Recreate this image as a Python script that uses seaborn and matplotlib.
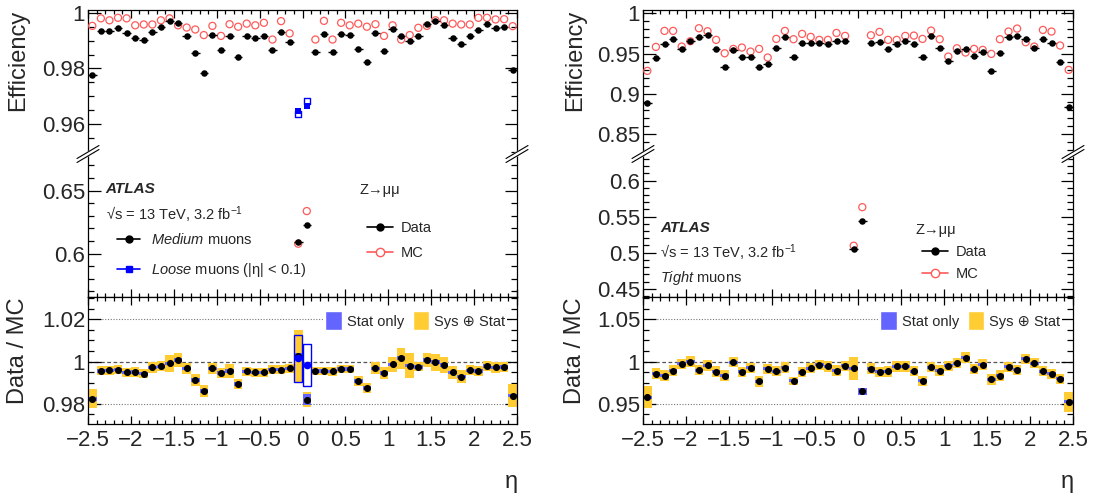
import numpy as np
import matplotlib
matplotlib.use("Agg")
import matplotlib.pyplot as plt
import seaborn as sns
from matplotlib.lines import Line2D
from matplotlib.patches import Patch
from matplotlib.ticker import MultipleLocator

# eta bin centres (50 bins of 0.1 between -2.5 and 2.5)
eta = np.round(np.linspace(-2.45, 2.45, 50), 2)
loose_eta = [-0.05, 0.05]

# ---- left: Medium muons ----
medium_data = [0.9778, 0.9935, 0.9935, 0.9945, 0.9929, 0.9908, 0.9904, 0.9930, 0.9950, 0.9971,
               0.9964, 0.9917, 0.9855, 0.9783, 0.9920, 0.9865, 0.9918, 0.9841, 0.9916, 0.9908,
               0.9917, 0.9866, 0.9931, 0.9894, 0.6094, 0.6224, 0.9859, 0.9925, 0.9859, 0.9925,
               0.9922, 0.9871, 0.9824, 0.9929, 0.9863, 0.9942, 0.9917, 0.9900, 0.9917, 0.9961,
               0.9970, 0.9957, 0.9911, 0.9887, 0.9918, 0.9937, 0.9959, 0.9947, 0.9950, 0.9793]
medium_mc = [0.9953, 0.9980, 0.9973, 0.9982, 0.9980, 0.9955, 0.9958, 0.9958, 0.9973, 0.9980,
             0.9955, 0.9947, 0.9940, 0.9920, 0.9953, 0.9917, 0.9959, 0.9950, 0.9961, 0.9955,
             0.9964, 0.9904, 0.9970, 0.9926, 0.6078, 0.6337, 0.9904, 0.9971, 0.9904, 0.9964,
             0.9955, 0.9961, 0.9950, 0.9959, 0.9917, 0.9955, 0.9904, 0.9920, 0.9946, 0.9953,
             0.9973, 0.9973, 0.9961, 0.9958, 0.9958, 0.9982, 0.9982, 0.9976, 0.9977, 0.9952]
medium_ratio = [0.9823, 0.9956, 0.9959, 0.9962, 0.9949, 0.9951, 0.9943, 0.9972, 0.9978, 0.9992,
                1.0008, 0.9968, 0.9913, 0.9861, 0.9968, 0.9946, 0.9956, 0.9893, 0.9953, 0.9949,
                0.9949, 0.9962, 0.9962, 0.9968, 1.0025, 0.9820, 0.9956, 0.9956, 0.9953, 0.9965,
                0.9965, 0.9908, 0.9874, 0.9968, 0.9945, 0.9987, 1.0016, 0.9981, 0.9975, 1.0008,
                0.9997, 0.9983, 0.9949, 0.9929, 0.9959, 0.9956, 0.9979, 0.9972, 0.9975, 0.9839]
medium_sys = [0.0045, 0.0022, 0.0022, 0.0022, 0.0022, 0.0022, 0.0022, 0.0025, 0.0025, 0.0040,
              0.0034, 0.0025, 0.0030, 0.0030, 0.0025, 0.0025, 0.0032, 0.0022, 0.0020, 0.0020,
              0.0020, 0.0020, 0.0020, 0.0020, 0.0126, 0.0035, 0.0020, 0.0020, 0.0020, 0.0020,
              0.0020, 0.0022, 0.0022, 0.0028, 0.0030, 0.0035, 0.0049, 0.0060, 0.0022, 0.0034,
              0.0040, 0.0037, 0.0030, 0.0030, 0.0025, 0.0025, 0.0025, 0.0025, 0.0025, 0.0053]
medium_stat = [0.0008] * 24 + [0.0015, 0.0028] + [0.0008] * 24

loose_data = [0.9649, 0.9665]
loose_mc = [0.9636, 0.9682]
loose_ratio = [1.0015, 0.9984]
loose_err = [0.0112, 0.0098]

# ---- right: Tight muons ----
tight_data = [0.8885, 0.9447, 0.9616, 0.9686, 0.9558, 0.9653, 0.9711, 0.9727, 0.9554, 0.9339,
              0.9546, 0.9463, 0.9463, 0.9335, 0.9368, 0.9570, 0.9711, 0.9455, 0.9628, 0.9628,
              0.9628, 0.9620, 0.9657, 0.9661, 0.5051, 0.5440, 0.9637, 0.9641, 0.9562, 0.9620,
              0.9653, 0.9616, 0.9455, 0.9723, 0.9575, 0.9409, 0.9537, 0.9554, 0.9475, 0.9517,
              0.9290, 0.9513, 0.9711, 0.9719, 0.9678, 0.9570, 0.9678, 0.9628, 0.9397, 0.8844]
tight_mc = [0.9286, 0.9583, 0.9781, 0.9781, 0.9587, 0.9653, 0.9814, 0.9777, 0.9670, 0.9504,
            0.9558, 0.9575, 0.9525, 0.9558, 0.9451, 0.9682, 0.9781, 0.9678, 0.9744, 0.9707,
            0.9670, 0.9670, 0.9756, 0.9719, 0.5097, 0.5632, 0.9727, 0.9769, 0.9670, 0.9670,
            0.9719, 0.9723, 0.9682, 0.9785, 0.9678, 0.9463, 0.9566, 0.9513, 0.9558, 0.9546,
            0.9496, 0.9678, 0.9773, 0.9810, 0.9641, 0.9587, 0.9793, 0.9773, 0.9600, 0.9298]
tight_ratio = [0.9577, 0.9858, 0.9834, 0.9893, 0.9972, 1.0000, 0.9897, 0.9953, 0.9878, 0.9834,
               0.9992, 0.9878, 0.9925, 0.9767, 0.9913, 0.9885, 0.9929, 0.9771, 0.9874, 0.9921,
               0.9960, 0.9941, 0.9893, 0.9949, 0.9921, 0.9645, 0.9917, 0.9878, 0.9882, 0.9941,
               0.9941, 0.9885, 0.9771, 0.9933, 0.9893, 0.9949, 0.9980, 1.0047, 0.9909, 0.9964,
               0.9787, 0.9834, 0.9937, 0.9901, 1.0032, 0.9980, 0.9885, 0.9854, 0.9795, 0.9522]
tight_sys = [0.0130, 0.0063, 0.0063, 0.0063, 0.0060, 0.0060, 0.0060, 0.0060, 0.0063, 0.0063,
             0.0060, 0.0060, 0.0060, 0.0063, 0.0060, 0.0060, 0.0060, 0.0050, 0.0060, 0.0060,
             0.0060, 0.0060, 0.0060, 0.0060, 0.0138, 0.0042, 0.0060, 0.0060, 0.0060, 0.0060,
             0.0060, 0.0060, 0.0060, 0.0060, 0.0060, 0.0060, 0.0060, 0.0067, 0.0060, 0.0060,
             0.0060, 0.0060, 0.0060, 0.0060, 0.0060, 0.0060, 0.0060, 0.0060, 0.0060, 0.0120]
tight_stat = [0.0018] * 25 + [0.0040] + [0.0018] * 24

xtick_vals = [-2.5, -2, -1.5, -1, -0.5, 0, 0.5, 1, 1.5, 2, 2.5]
xtick_labels = ["\u22122.5", "\u22122", "\u22121.5", "\u22121", "\u22120.5", "0",
                "0.5", "1", "1.5", "2", "2.5"]

MC_RED = "#ff5a5a"
LOOSE_BLUE = "#0000ff"
STAT_BLUE = "#6464ff"
SYS_YELLOW = "#ffcc33"

sns.set_style("ticks")
plt.rcParams["font.family"] = ["Liberation Sans", "DejaVu Sans"]
plt.rcParams["mathtext.fontset"] = "custom"
plt.rcParams["mathtext.rm"] = "Liberation Sans"
plt.rcParams["mathtext.it"] = "Liberation Sans:italic"
plt.rcParams["mathtext.bf"] = "Liberation Sans:bold"
plt.rcParams["axes.linewidth"] = 0.9
plt.rcParams["axes.edgecolor"] = "black"

W, H = 1096, 501
fig = plt.figure(figsize=(W / 100, H / 100), dpi=100)


def fx(x):
    return x / W


def fy(y):
    return 1 - y / H


def px_axes(x0, x1, y0, y1):
    return fig.add_axes([fx(x0), fy(y1), (x1 - x0) / W, (y1 - y0) / H])


def style_axes(ax, yticks, ylabels, yminor, top, bottom, xlabels=False):
    ax.set_xlim(-2.5, 2.5)
    ax.set_xticks(xtick_vals, xtick_labels if xlabels else [""] * len(xtick_vals))
    ax.xaxis.set_minor_locator(MultipleLocator(0.1))
    ax.set_yticks(yticks, ylabels)
    ax.yaxis.set_minor_locator(MultipleLocator(yminor))
    ax.tick_params(which="both", direction="in", left=True, right=True,
                   top=top, bottom=bottom, labelsize=16, color="black", width=0.9)
    ax.tick_params(axis="y", which="major", length=9, pad=2)
    ax.tick_params(axis="y", which="minor", length=4.5)
    ax.tick_params(axis="x", which="major", length=6, pad=4)
    ax.tick_params(axis="x", which="minor", length=3)
    ax.set_xlabel("")
    ax.set_ylabel("")


def draw_break(xp, yp):
    fig.add_artist(Line2D([fx(xp - 10), fx(xp + 10)], [fy(yp + 6), fy(yp - 6)],
                          color="white", lw=3.5))
    for off in (-2, 2):
        fig.add_artist(Line2D([fx(xp - 11), fx(xp + 11)], [fy(yp + 6.5 + off), fy(yp - 6.5 + off)],
                              color="black", lw=0.8))


def draw_panel(x0, x1, data, mc, ratio, sys_err, stat_err, lims, ticks, minors):
    data = np.array(data)
    ratio = np.array(ratio)
    sys_err = np.array(sys_err)
    stat_err = np.array(stat_err)
    ax_top = px_axes(x0, x1, 10, 154)
    ax_mid = px_axes(x0, x1, 154, 297)
    ax_rat = px_axes(x0, x1, 297, 424)
    for ax in (ax_top, ax_mid):
        ax.errorbar(eta, data, xerr=0.05, fmt="none", ecolor="black", elinewidth=1, zorder=4)
        sns.scatterplot(x=eta, y=data, ax=ax, color="black", s=22, linewidth=0, zorder=5)
        sns.scatterplot(x=eta, y=mc, ax=ax, marker="o", s=26, zorder=3)
        ax.collections[-1].set_facecolor("none")
        ax.collections[-1].set_edgecolor(MC_RED)
        ax.collections[-1].set_linewidth(0.9)
    ax_top.set_ylim(*lims[0])
    ax_mid.set_ylim(*lims[1])
    ax_top.spines["bottom"].set_visible(False)
    ax_mid.spines["top"].set_visible(False)

    ax_rat.bar(eta, 2 * sys_err, bottom=ratio - sys_err, width=0.1, color=SYS_YELLOW, linewidth=0)
    ax_rat.bar(eta, 2 * stat_err, bottom=ratio - stat_err, width=0.1, color=STAT_BLUE, linewidth=0)
    sns.scatterplot(x=eta, y=ratio, ax=ax_rat, color="black", s=26, linewidth=0, zorder=5)
    ax_rat.set_ylim(*lims[2])
    ax_rat.axhline(1.0, color="#555555", lw=0.9, ls=(0, (3, 2)), zorder=0)
    for g in (ticks[2][0], ticks[2][2]):
        ax_rat.axhline(g, color="#777777", lw=0.8, ls=(0, (1, 1.5)), zorder=0)

    style_axes(ax_top, ticks[0], ticks[3], minors[0], top=True, bottom=False)
    style_axes(ax_mid, ticks[1], ticks[4], minors[1], top=False, bottom=True)
    style_axes(ax_rat, ticks[2], ticks[5], minors[2], top=True, bottom=True, xlabels=True)

    ax_rat.legend([Patch(facecolor=STAT_BLUE), Patch(facecolor=SYS_YELLOW)],
                  ["Stat only", "Sys \u2295 Stat"], ncol=2, loc="upper left",
                  bbox_to_anchor=(0, 0), bbox_transform=ax_rat.transAxes,
                  fontsize=10.5, frameon=True, fancybox=False, framealpha=1,
                  facecolor="white", edgecolor="none", handlelength=1.15, handleheight=1.6,
                  handletextpad=0.3, columnspacing=0.6, borderpad=0.15)
    draw_break(x0, 154)
    draw_break(x1, 154)
    fig.text(fx(18 if x0 < 500 else 575), fy(10), "Efficiency", rotation=90,
             ha="center", va="top", fontsize=17)
    fig.text(fx(18 if x0 < 500 else 575), fy(298), "Data / MC", rotation=90,
             ha="center", va="top", fontsize=17)
    fig.text(fx(x1 - 6), fy(482), "\u03b7", ha="center", va="center", fontsize=17)
    return ax_top, ax_mid, ax_rat


# left panel
lt, lm, lr = draw_panel(
    88, 517, medium_data, medium_mc, medium_ratio, medium_sys, medium_stat,
    [(0.9493, 1.001), (0.5655, 0.679), (0.9704, 1.0306)],
    [[1.0, 0.98, 0.96], [0.65, 0.6], [1.02, 1.0, 0.98],
     ["1", "0.98", "0.96"], ["0.65", "0.6"], ["1.02", "1", "0.98"]],
    [0.005, 0.01, 0.005])
lr.get_legend().set_bbox_to_anchor((fx(316), fy(302)), transform=fig.transFigure)

for ax in (lt, lm):
    sns.scatterplot(x=loose_eta, y=loose_mc, ax=ax, marker="s", s=22, zorder=6)
    ax.collections[-1].set_facecolor("white")
    ax.collections[-1].set_edgecolor(LOOSE_BLUE)
    ax.collections[-1].set_linewidth(1)
    sns.scatterplot(x=loose_eta, y=loose_data, ax=ax, marker="s", s=24,
                    color=LOOSE_BLUE, linewidth=0, zorder=7)
lr.bar(loose_eta, 2 * np.array(loose_err), bottom=np.array(loose_ratio) - np.array(loose_err),
       width=0.09, fill=False, edgecolor=LOOSE_BLUE, linewidth=1, zorder=4)
sns.scatterplot(x=loose_eta, y=loose_ratio, ax=lr, color=LOOSE_BLUE, s=30, linewidth=0, zorder=6)

leg1 = lm.legend([Line2D([], [], color="black", marker="o", markersize=5, lw=1.2),
                  Line2D([], [], color=LOOSE_BLUE, marker="s", markersize=5, lw=1.2)],
                 ["$\\mathit{Medium}$ muons", "$\\mathit{Loose}$ muons (|\u03b7| < 0.1)"],
                 loc="upper left", bbox_to_anchor=(fx(117), fy(232)), bbox_transform=fig.transFigure,
                 frameon=False, fontsize=10.5, handlelength=1.6, handletextpad=0.7,
                 labelspacing=0.95, borderpad=0, borderaxespad=0)
lm.add_artist(leg1)
lm.legend([Line2D([], [], color="black", marker="o", markersize=5, lw=1.2),
           Line2D([], [], color=MC_RED, marker="o", markersize=6, markerfacecolor="white", lw=1.2)],
          ["Data", "MC"], loc="upper left", bbox_to_anchor=(fx(367), fy(221)),
          bbox_transform=fig.transFigure, frameon=False, fontsize=10.5, handlelength=1.8,
          handletextpad=0.5, labelspacing=0.75, borderpad=0, borderaxespad=0)
fig.text(fx(105), fy(189), "ATLAS", fontsize=11, fontweight="bold", fontstyle="italic", va="center")
fig.text(fx(106), fy(215), "\u221as = 13 TeV, 3.2 fb$^{-1}$", fontsize=10.5, va="center")
fig.text(fx(360), fy(190), "Z\u2192\u03bc\u03bc", fontsize=10.5, va="center")

# right panel
rt, rm, rr = draw_panel(
    643, 1073, tight_data, tight_mc, tight_ratio, tight_sys, tight_stat,
    [(0.8256, 1.004), (0.4385, 0.637), (0.926, 1.0764)],
    [[1.0, 0.95, 0.9, 0.85], [0.6, 0.55, 0.5, 0.45], [1.05, 1.0, 0.95],
     ["1", "0.95", "0.9", "0.85"], ["0.6", "0.55", "0.5", "0.45"], ["1.05", "1", "0.95"]],
    [0.01, 0.01, 0.0125])
rr.get_legend().set_bbox_to_anchor((fx(871), fy(302)), transform=fig.transFigure)

rm.legend([Line2D([], [], color="black", marker="o", markersize=5, lw=1.2),
           Line2D([], [], color=MC_RED, marker="o", markersize=6, markerfacecolor="white", lw=1.2)],
          ["Data", "MC"], loc="upper left", bbox_to_anchor=(fx(922), fy(245)),
          bbox_transform=fig.transFigure, frameon=False, fontsize=10.5, handlelength=1.8,
          handletextpad=0.5, labelspacing=0.55, borderpad=0, borderaxespad=0)
fig.text(fx(660), fy(228), "ATLAS", fontsize=11, fontweight="bold", fontstyle="italic", va="center")
fig.text(fx(660), fy(253), "\u221as = 13 TeV, 3.2 fb$^{-1}$", fontsize=10.5, va="center")
fig.text(fx(660), fy(278), "$\\mathit{Tight}$ muons", fontsize=10.5, va="center")
fig.text(fx(915), fy(230), "Z\u2192\u03bc\u03bc", fontsize=10.5, va="center")

fig.savefig("out.png", dpi=100)
